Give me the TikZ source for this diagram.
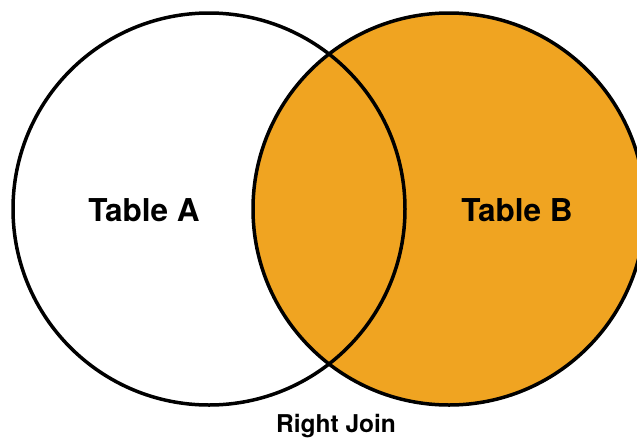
\documentclass[tikz,border=0pt]{standalone}
\usepackage{fontspec}
\setmainfont{TeX Gyre Heros}
\definecolor{joinorange}{HTML}{F0A421}
\begin{document}
\begin{tikzpicture}[x=1pt,y=-1pt,
  setline/.style={draw=black,line width=3.5pt},
  label/.style={font=\bfseries\fontsize{31.5}{36}\selectfont,inner sep=0pt},
  caption/.style={font=\bfseries\fontsize{24.5}{28}\selectfont,inner sep=0pt}]
\useasboundingbox (0,0) rectangle (637,440);
\clip (0,0) rectangle (637,440);
\coordinate (cA) at (209,209);
\coordinate (cB) at (449,209);
\fill[joinorange] (cB) circle (196);
\draw[setline] (cA) circle (196);
\draw[setline] (cB) circle (196);
\node[label] (ta) at (144,210) {Table A};
\node[label] (tb) at (517,210) {Table B};
\node[caption] (rj) at (336,426) {Right Join};
\end{tikzpicture}
\end{document}
